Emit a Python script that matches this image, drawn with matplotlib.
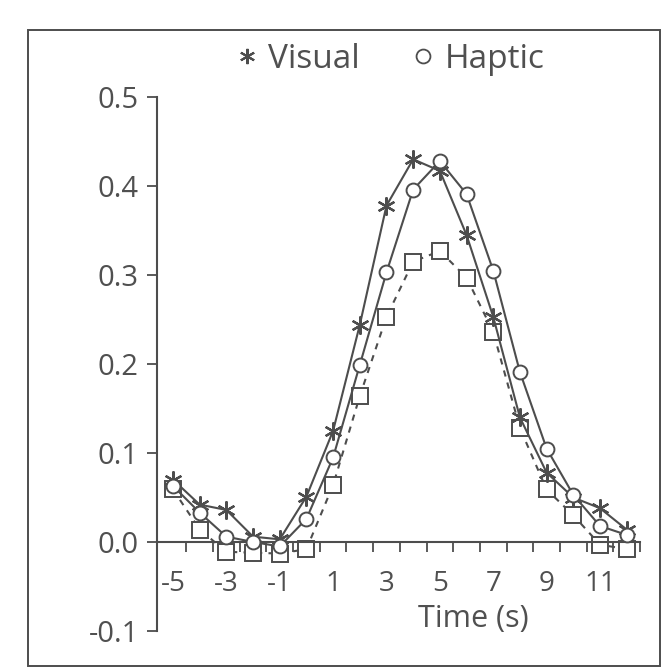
import matplotlib
matplotlib.use("Agg")
import matplotlib.pyplot as plt
from matplotlib.lines import Line2D

# values (one point per second)
time = list(range(-5, 13))
visual = [0.070, 0.042, 0.036, 0.006, 0.003, 0.051, 0.125, 0.244, 0.378,
          0.430, 0.417, 0.345, 0.253, 0.140, 0.078, 0.050, 0.038, 0.014]
haptic = [0.063, 0.033, 0.006, 0.000, -0.005, 0.026, 0.095, 0.199, 0.303,
          0.396, 0.428, 0.391, 0.305, 0.191, 0.105, 0.053, 0.018, 0.008]
third = [0.059, 0.014, -0.011, -0.012, -0.013, -0.008, 0.064, 0.164, 0.253,
         0.315, 0.327, 0.297, 0.236, 0.128, 0.059, 0.030, -0.003, -0.008]

yticks = [-0.1, 0.0, 0.1, 0.2, 0.3, 0.4, 0.5]
ytick_labels = ["-0.1", "0.0", "0.1", "0.2", "0.3", "0.4", "0.5"]
xtick_labels = ["-5", "-3", "-1", "1", "3", "5", "7", "9", "11"]

plt.rcParams["font.family"] = ["Open Sans", "DejaVu Sans"]
INK = "#4d4d4d"
TXT = "#505050"

fig = plt.figure(figsize=(6.68, 6.72), dpi=100)
ax = fig.add_axes([157/668, 41/672, 483/668, 534/672])

star = (6, 2, 0)
ax.plot(time, visual, color=INK, lw=1.5, marker=star, ms=13, mew=1.6,
        mec=INK, zorder=3)
ax.plot(time, haptic, color=INK, lw=1.5, marker="o", ms=10, mew=1.4,
        mec=INK, mfc="white", zorder=3)
ax.plot(time, third, color=INK, lw=1.5, ls=(0, (3, 3)), marker="s", ms=11,
        mew=1.4, mec=INK, mfc="white", zorder=2)

ax.set_xlim(-5.6, 12.5)
ax.set_ylim(-0.1, 0.5)
for s in ("top", "right"):
    ax.spines[s].set_visible(False)
ax.spines["bottom"].set_position(("data", 0))
for s in ("left", "bottom"):
    ax.spines[s].set_color(INK)
    ax.spines[s].set_linewidth(1.5)

ax.set_yticks(yticks)
ax.set_yticklabels(ytick_labels)
ax.tick_params(axis="y", direction="out", length=7, width=1.3, color=INK,
               labelsize=21, labelcolor=TXT, pad=6)

odd = [int(s) for s in xtick_labels]
ax.set_xticks(odd)
ax.set_xticklabels(xtick_labels)
ax.set_xticks([t + 0.5 for t in time], minor=True)
ax.tick_params(axis="x", which="major", length=0, labelsize=20,
               labelcolor=TXT, pad=20)
ax.tick_params(axis="x", which="minor", direction="out", length=7, width=1.3,
               color=INK)

ax.set_xlabel("Time (s)", fontsize=22, color=TXT)
ax.xaxis.set_label_coords(0.655, 0.05)

handles = [Line2D([], [], ls="none", marker=star, ms=11, mew=1.5, color=INK),
           Line2D([], [], ls="none", marker="o", ms=10, mew=1.3, mec=INK,
                  mfc="white")]
fig.legend(handles, ["Visual", "Haptic"], loc="center",
           bbox_to_anchor=(0.585, 0.912), ncol=2, frameon=False, fontsize=24,
           handlelength=0.6, handletextpad=0.35, columnspacing=1.6,
           labelcolor=TXT)

# scan frame around the figure
fig.add_artist(plt.Rectangle((28/668, 6/672), 632/668, 636/672,
                             transform=fig.transFigure, fill=False,
                             edgecolor=INK, lw=1.4))

fig.savefig("out.png", dpi=100, facecolor="white")
